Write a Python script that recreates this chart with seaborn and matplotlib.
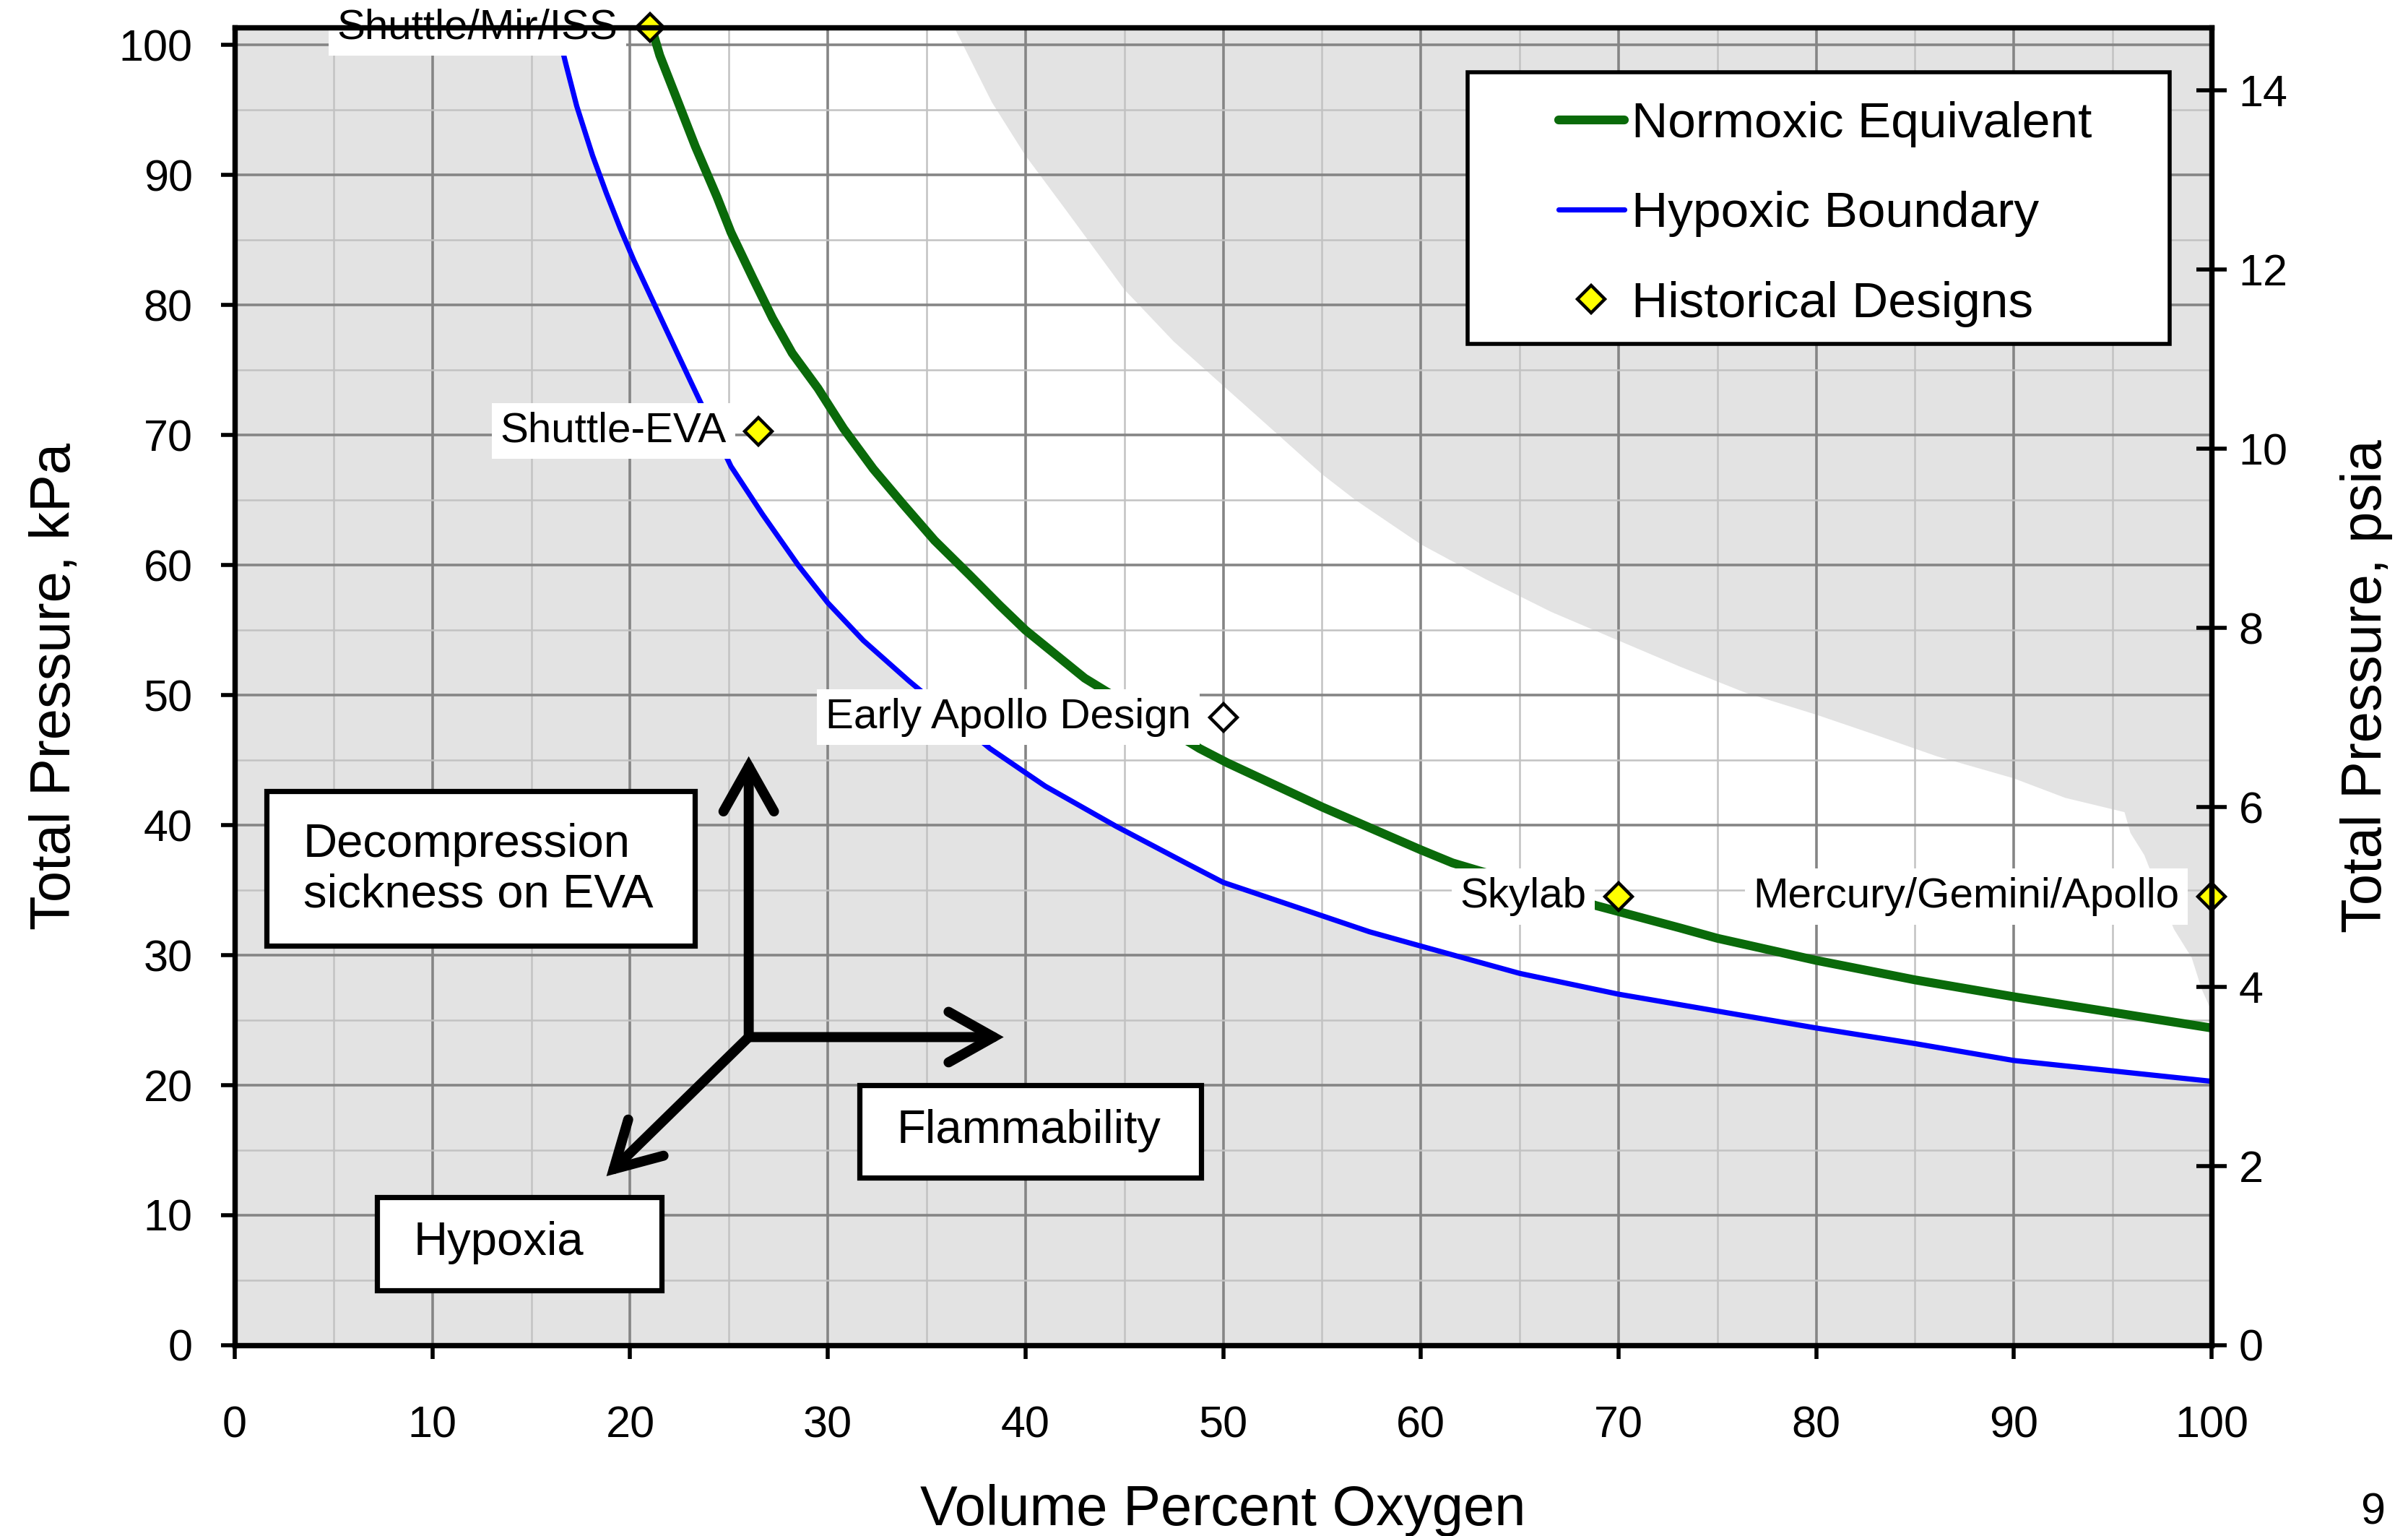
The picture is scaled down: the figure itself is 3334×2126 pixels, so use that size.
import numpy as np
import pandas as pd
import matplotlib
matplotlib.use("Agg")
import matplotlib.pyplot as plt
import seaborn as sns
from matplotlib.lines import Line2D
from matplotlib.patches import Rectangle

# ---------------- data ----------------
normoxic_o2 = [21.15, 21.5, 22.3, 23.3, 24.4, 25.1, 26.2, 27.2, 28.2, 29.5, 30.8, 32.3,
               33.8, 35.4, 37.2, 38.7, 40.0, 43.0, 48.8, 50.2, 55.0, 60.0, 61.6,
               68.9, 73.1, 75.0, 80.0, 85.0, 90.0, 95.0, 100.0]
normoxic_kpa = [101.0, 99.2, 96.1, 92.2, 88.3, 85.6, 82.1, 79.0, 76.3, 73.6, 70.5, 67.4,
                64.7, 61.9, 59.2, 56.9, 55.0, 51.3, 45.9, 44.8, 41.4, 38.1, 37.1,
                33.8, 32.1, 31.3, 29.6, 28.1, 26.8, 25.6, 24.4]

hypoxic_o2 = [16.3, 16.74, 17.3, 18.1, 18.8, 19.5, 20.2, 21.8, 23.1, 25.1, 26.7, 28.5,
              30.0, 31.8, 34.1, 38.2, 41.0, 44.6, 48.1, 50.0, 53.9, 57.4, 60.0, 65.0,
              70.0, 75.0, 80.0, 85.0, 90.0, 95.0, 100.0]
hypoxic_kpa = [101.35, 98.6, 95.3, 91.5, 88.6, 85.9, 83.4, 78.2, 74.0, 67.6, 63.9, 60.0,
               57.1, 54.2, 51.1, 45.9, 43.0, 39.9, 37.1, 35.6, 33.6, 31.8, 30.7, 28.6,
               27.0, 25.7, 24.4, 23.2, 21.9, 21.1, 20.3]

flammability_o2 = [36.4, 38.3, 40.0, 42.1, 45.0, 47.5, 50.0, 52.8, 55.0, 56.7, 60.0, 63.3,
                   66.6, 70.0, 73.1, 76.4, 80.0, 82.9, 86.1, 90.0, 92.6, 95.6, 95.9, 96.6,
                   97.3, 98.1, 99.0, 99.5, 100.0]
flammability_kpa = [101.35, 95.6, 91.5, 87.2, 81.2, 77.2, 73.8, 70.0, 67.0, 65.0, 61.6, 58.9,
                    56.4, 54.2, 52.2, 50.2, 48.5, 47.0, 45.3, 43.6, 42.1, 41.0, 39.4, 37.7,
                    35.0, 32.0, 29.8, 27.4, 25.7]

design_names = ["Shuttle/Mir/ISS", "Shuttle-EVA", "Early Apollo Design", "Skylab",
                "Mercury/Gemini/Apollo"]
design_o2 = [21.0, 26.5, 50.0, 70.0, 100.0]
design_kpa = [101.35, 70.3, 48.3, 34.5, 34.5]
design_historical = [True, True, False, True, True]

x_ticks = list(range(0, 101, 10))
kpa_ticks = list(range(0, 101, 10))
psia_ticks = list(range(0, 15, 2))

KPA_PER_PSI = 6.894757
Y_MAX_KPA = 101.35

# ---------------- styling ----------------
sns.set_theme(style="white")
plt.rcParams["font.family"] = ["Liberation Sans", "DejaVu Sans"]
plt.rcParams["text.color"] = "black"
plt.rcParams["axes.labelcolor"] = "black"
plt.rcParams["xtick.color"] = "black"
plt.rcParams["ytick.color"] = "black"

GREEN = "#0a6a0a"
BLUE = "#0000ff"
YELLOW = "#ffff00"
GRAY_BG = "#e3e3e3"

fig = plt.figure(figsize=(16.67, 10.63), dpi=200)
ax = fig.add_axes([0.0975, 0.1242, 0.8209, 0.8579])
ax.set_facecolor(GRAY_BG)
ax.set_xlim(0, 100)
ax.set_ylim(0, Y_MAX_KPA)
ax.set_axisbelow(True)

# white (acceptable) region between hypoxic boundary and flammability boundary
poly_x = list(hypoxic_o2) + list(flammability_o2[::-1])
poly_y = list(hypoxic_kpa) + list(flammability_kpa[::-1])
ax.fill(poly_x, poly_y, color="white", lw=0, zorder=0.2)

# grid
ax.set_xticks(x_ticks)
ax.set_yticks(kpa_ticks)
ax.set_xticks(np.arange(0, 101, 5), minor=True)
ax.set_yticks(np.arange(0, 101, 5), minor=True)
ax.grid(which="major", color="#858585", lw=1.3)
ax.grid(which="minor", color="#c2c2c2", lw=0.9)

# curves
hyp_df = pd.DataFrame({"o2": hypoxic_o2, "kpa": hypoxic_kpa})
norm_df = pd.DataFrame({"o2": normoxic_o2, "kpa": normoxic_kpa})
sns.lineplot(data=hyp_df, x="o2", y="kpa", sort=False, estimator=None, ax=ax,
             color=BLUE, lw=2.6, zorder=3, legend=False)
sns.lineplot(data=norm_df, x="o2", y="kpa", sort=False, estimator=None, ax=ax,
             color=GREEN, lw=4.4, zorder=3.1, legend=False)

# historical design markers
for name, xo, yk, hist in zip(design_names, design_o2, design_kpa, design_historical):
    ax.plot([xo], [yk], marker="D", ms=9.5, mfc=YELLOW if hist else "white",
            mec="black", mew=1.6, ls="none", zorder=6, clip_on=False)
    ax.annotate(name, xy=(xo, yk), xytext=(-16, 0), textcoords="offset points",
                ha="right", va="center", fontsize=21, color="black", zorder=5,
                annotation_clip=False,
                bbox=dict(boxstyle="square,pad=0.2", fc="white", ec="none"))

# explanatory boxes
boxes = [
    ((1.6, 30.7), 21.67, 11.9, "Decompression\nsickness on EVA", (3.46, 36.55)),
    ((31.6, 12.9), 17.3, 7.1, "Flammability", (33.5, 16.5)),
    ((7.2, 4.2), 14.4, 7.2, "Hypoxia", (9.05, 7.9)),
]
for (x0, y0), w, h, txt, (tx, ty) in boxes:
    ax.add_patch(Rectangle((x0, y0), w, h, fc="white", ec="black", lw=2.6, zorder=4))
    ax.text(tx, ty, txt, ha="left", va="center", fontsize=23.5, zorder=4.5,
            linespacing=1.2)

# arrows
origin = (26.0, 23.7)
for tip in [(26.0, 45.3), (38.9, 23.7), (18.8, 13.0)]:
    ax.annotate("", xy=tip, xytext=origin,
                arrowprops=dict(arrowstyle="->,head_length=0.8,head_width=0.45",
                                lw=5.0, color="black", shrinkA=0, shrinkB=0,
                                mutation_scale=28, capstyle="round",
                                joinstyle="miter"),
                zorder=4)

# spines / ticks
for s in ax.spines.values():
    s.set_color("black")
    s.set_linewidth(2.6)
    s.set_zorder(7)
ax.tick_params(axis="x", which="major", direction="out", length=7, width=2,
               pad=23, labelsize=22, color="black", bottom=True)
ax.tick_params(axis="y", which="major", direction="out", length=7, width=2,
               pad=14, labelsize=22, color="black", left=True)
ax.tick_params(which="minor", length=0)
ax.set_xlabel("Volume Percent Oxygen", fontsize=28, labelpad=18.5)
ax.set_ylabel("Total Pressure, kPa", fontsize=28, labelpad=18.5)

ax2 = ax.twinx()
ax2.set_ylim(0, Y_MAX_KPA / KPA_PER_PSI)
ax2.set_yticks(psia_ticks)
ax2.grid(False)
for s in ax2.spines.values():
    s.set_color("black")
    s.set_linewidth(2.6)
ax2.tick_params(axis="y", direction="inout", length=15, width=2, pad=6,
                labelsize=22, color="black", right=True)
ax2.set_ylabel("Total Pressure, psia", fontsize=28, labelpad=26, rotation=90)

# legend (frame drawn as a separate box to match the wide padding)
ax2.add_patch(Rectangle((0.6237, 0.760), 0.3551, 0.206, transform=ax.transAxes,
                        fc="white", ec="black", lw=2.0, zorder=9, clip_on=False))
handles = [
    Line2D([], [], color=GREEN, lw=4.4),
    Line2D([], [], color=BLUE, lw=2.6),
    Line2D([], [], marker="D", ms=9.5, mfc=YELLOW, mec="black", mew=1.6, ls="none"),
]
labels = ["Normoxic Equivalent", "Hypoxic Boundary", "Historical Designs"]
leg = ax2.legend(handles, labels, loc="center left", bbox_to_anchor=(0.6697, 0.8584),
                 bbox_transform=ax.transAxes, frameon=False, fontsize=25,
                 handlelength=1.31, handletextpad=0.15, labelspacing=0.87,
                 borderpad=0, borderaxespad=0, numpoints=1)
leg.set_zorder(10)

fig.text(0.9853, 0.015, "9", ha="center", va="center", fontsize=22)

fig.savefig("out.png", dpi=200)
